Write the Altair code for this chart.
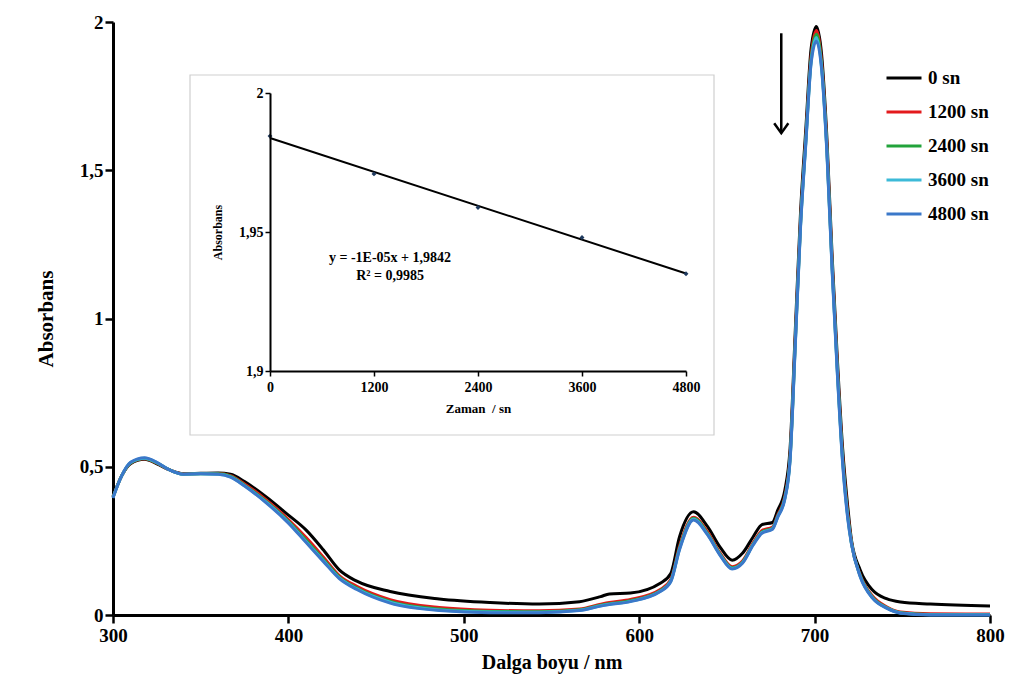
import altair as alt
import pandas as pd

# ---------------- data ----------------
wavelength = [300, 305, 310, 318, 325, 332, 340, 350, 360, 367, 375, 387, 400, 410, 420, 429, 439,
              458, 486, 515, 543, 566, 578, 583, 595, 612, 618, 623, 631, 639, 646, 653, 659, 665,
              670, 676, 679, 683, 686, 689, 692, 695, 698, 701, 704, 707, 710, 713, 716, 719, 721,
              726, 733, 741, 749, 766, 800]

abs_0 = [0.40, 0.47, 0.51, 0.525, 0.51, 0.49, 0.477, 0.478, 0.479, 0.475, 0.45, 0.40, 0.337, 0.287,
         0.219, 0.152, 0.114, 0.079, 0.054, 0.042, 0.037, 0.045, 0.062, 0.071, 0.074, 0.107, 0.14,
         0.264, 0.348, 0.298, 0.23, 0.185, 0.209, 0.264, 0.305, 0.312, 0.354, 0.42, 0.56, 0.96, 1.36,
         1.64, 1.91, 1.985, 1.89, 1.61, 1.21, 0.86, 0.56, 0.36, 0.253, 0.152, 0.084, 0.055, 0.044,
         0.037, 0.03]

abs_1200 = [0.398, 0.47, 0.512, 0.527, 0.512, 0.49, 0.476, 0.477, 0.477, 0.47, 0.442, 0.39, 0.322,
            0.262, 0.195, 0.133, 0.097, 0.052, 0.025, 0.016, 0.014, 0.02, 0.036, 0.042, 0.052, 0.086,
            0.12, 0.232, 0.33, 0.28, 0.21, 0.163, 0.183, 0.244, 0.285, 0.297, 0.338, 0.40, 0.535, 0.93,
            1.33, 1.61, 1.885, 1.971, 1.865, 1.585, 1.185, 0.835, 0.535, 0.34, 0.246, 0.136, 0.064,
            0.028, 0.01, 0.004, 0.003]

abs_2400 = [0.397, 0.47, 0.513, 0.528, 0.513, 0.49, 0.475, 0.476, 0.476, 0.468, 0.438, 0.385, 0.316,
            0.253, 0.187, 0.128, 0.091, 0.046, 0.02, 0.012, 0.011, 0.018, 0.033, 0.038, 0.048, 0.082,
            0.116, 0.226, 0.326, 0.275, 0.206, 0.159, 0.179, 0.24, 0.28, 0.293, 0.334, 0.395, 0.527,
            0.92, 1.32, 1.60, 1.873, 1.959, 1.853, 1.573, 1.173, 0.823, 0.523, 0.33, 0.243, 0.133,
            0.06, 0.025, 0.008, 0.002, 0.002]

abs_3600 = [0.396, 0.47, 0.514, 0.529, 0.514, 0.49, 0.475, 0.476, 0.475, 0.466, 0.436, 0.382, 0.313,
            0.248, 0.183, 0.125, 0.088, 0.043, 0.017, 0.01, 0.009, 0.016, 0.031, 0.036, 0.046, 0.08,
            0.114, 0.223, 0.323, 0.272, 0.204, 0.157, 0.177, 0.238, 0.278, 0.291, 0.332, 0.392, 0.523,
            0.915, 1.315, 1.595, 1.865, 1.948, 1.846, 1.566, 1.166, 0.816, 0.516, 0.325, 0.241, 0.131,
            0.058, 0.024, 0.007, 0.001, 0.001]

abs_4800 = [0.395, 0.47, 0.515, 0.53, 0.515, 0.49, 0.475, 0.476, 0.475, 0.465, 0.435, 0.38, 0.31,
            0.245, 0.18, 0.123, 0.086, 0.04, 0.015, 0.008, 0.008, 0.015, 0.03, 0.035, 0.045, 0.079,
            0.112, 0.22, 0.32, 0.27, 0.202, 0.155, 0.175, 0.236, 0.276, 0.289, 0.33, 0.39, 0.52, 0.91,
            1.31, 1.59, 1.86, 1.935, 1.84, 1.56, 1.16, 0.81, 0.51, 0.32, 0.24, 0.129, 0.057, 0.023,
            0.006, 0.0, 0.0]

series_names = ["0 sn", "1200 sn", "2400 sn", "3600 sn", "4800 sn"]
series_colors = ["#000000", "#e31a1c", "#22a33b", "#3cbad8", "#3b78c9"]

x_ticks = [300, 400, 500, 600, 700, 800]
y_ticks = [0, 0.5, 1, 1.5, 2]

# arrow annotation (wavelength, top absorbance, bottom absorbance)
arrow_wl = [681]
arrow_top = [1.962]
arrow_bottom = [1.625]

# inset: absorbance at peak vs time
inset_time = [0, 1200, 2400, 3600, 4800]
inset_abs = [1.9845, 1.9709, 1.9588, 1.9480, 1.9350]
inset_x_ticks = [0, 1200, 2400, 3600, 4800]
inset_y_ticks = [1.9, 1.95, 2]
eq_text = ["y = -1E-05x + 1,9842", "R² = 0,9985"]
eq_time = [1385, 1385]
eq_abs = [1.9406, 1.9342]

# ---------------- build tables ----------------
rows = []
for name, vals in zip(series_names, [abs_0, abs_1200, abs_2400, abs_3600, abs_4800]):
    for w, a in zip(wavelength, vals):
        rows.append({"series": name, "wl": w, "abs": a})
df = pd.DataFrame(rows)
arrow_df = pd.DataFrame({"wl": arrow_wl, "top": arrow_top, "bottom": arrow_bottom})
inset_df = pd.DataFrame({"t": inset_time, "a": inset_abs})
eq_df = pd.DataFrame({"t": eq_time, "a": eq_abs, "txt": eq_text})

FONT = "Liberation Serif"
W, H = 877, 593

label_expr = "replace(format(datum.value, '~g'), '.', ',')"

x_main = alt.X("wl:Q", scale=alt.Scale(domain=[300, 800], nice=False),
               axis=alt.Axis(values=x_ticks, title="Dalga boyu / nm", grid=False, format="d",
                             domainWidth=3, domainColor="black", tickColor="black",
                             tickWidth=2.5, tickSize=8, labelFont=FONT, labelFontWeight="bold",
                             labelFontSize=19, labelColor="black", labelPadding=3,
                             titleFont=FONT, titleFontWeight="bold", titleFontSize=20,
                             titleColor="black", titlePadding=7, labelFlush=False))
y_main = alt.Y("abs:Q", scale=alt.Scale(domain=[0, 2], nice=False),
               axis=alt.Axis(values=y_ticks, title="Absorbans", grid=False, labelExpr=label_expr,
                             domainWidth=3, domainColor="black", tickColor="black",
                             tickWidth=2.5, tickSize=8, labelFont=FONT, labelFontWeight="bold",
                             labelFontSize=19, labelColor="black", labelPadding=2,
                             titleFont=FONT, titleFontWeight="bold", titleFontSize=21,
                             titleColor="black", titlePadding=23, labelFlush=False))

lines = alt.Chart(df).mark_line(strokeWidth=3, interpolate="monotone").encode(
    x=x_main,
    y=y_main,
    color=alt.Color("series:N",
                    scale=alt.Scale(domain=series_names, range=series_colors),
                    legend=alt.Legend(title=None, orient="none", legendX=772, legendY=37,
                                      symbolType="stroke", symbolSize=1225, symbolStrokeWidth=3,
                                      labelFont=FONT, labelFontWeight="bold", labelFontSize=19,
                                      labelColor="black", rowPadding=5, labelOffset=5, padding=0)),
    order=alt.Order("wl:Q"),
)

arrow_line = alt.Chart(arrow_df).mark_rule(color="black", strokeWidth=2.5).encode(
    x="wl:Q", y="top:Q", y2="bottom:Q")
arrow_head = alt.Chart(arrow_df).mark_point(
    shape="M-1,-1.4L0,0L1,-1.4", filled=False, color="black", strokeWidth=2.5, size=200,
    opacity=1).encode(x="wl:Q", y="bottom:Q")

main = alt.layer(lines, arrow_line, arrow_head)

box = alt.Chart(pd.DataFrame({"k": [0]})).mark_rect(
    fill="white", stroke="#cfcfcf", strokeWidth=1.2).encode(
    x=alt.value(77), x2=alt.value(601), y=alt.value(53), y2=alt.value(413))

ix = alt.X("t:Q", scale=alt.Scale(domain=[0, 4800], range=[157, 573], nice=False),
           axis=alt.Axis(orient="bottom", offset=-244, values=inset_x_ticks,
                         title="Zaman\u00a0\u00a0/ sn", format="d",
                         grid=False, domainWidth=2, domainColor="black", tickColor="black",
                         tickWidth=1.5, tickSize=5, labelFont=FONT, labelFontWeight="bold",
                         labelFontSize=14, labelColor="black", labelPadding=4,
                         titleFont=FONT, titleFontWeight="bold", titleFontSize=13,
                         titleColor="black", titlePadding=8, labelFlush=False, zindex=2))
iy = alt.Y("a:Q", scale=alt.Scale(domain=[1.9, 2], range=[349, 71], nice=False, zero=False),
           axis=alt.Axis(orient="left", offset=-157, values=inset_y_ticks, title="Absorbans",
                         labelExpr=label_expr, grid=False, domainWidth=2, domainColor="black",
                         tickColor="black", tickWidth=1.5, tickSize=5, labelFont=FONT,
                         labelFontWeight="bold", labelFontSize=14, labelColor="black",
                         labelPadding=2, titleFont=FONT, titleFontWeight="bold",
                         titleFontSize=12, titleColor="black", titlePadding=14, labelFlush=False,
                         zindex=2))

inset_trend = alt.Chart(inset_df).transform_regression("t", "a").mark_line(
    color="black", strokeWidth=2).encode(x=ix, y=iy)
inset_pts = alt.Chart(inset_df).mark_point(
    shape="diamond", filled=True, color="#1f3a5f", size=24, opacity=1).encode(x=ix, y=iy)
inset_txt = alt.Chart(eq_df).mark_text(
    font=FONT, fontWeight="bold", fontSize=14, color="black", align="center").encode(
    x=ix, y=iy, text="txt:N")

inset = alt.layer(inset_trend, inset_pts, inset_txt)

chart = alt.layer(main, box, inset).resolve_scale(
    x="independent", y="independent"
).properties(
    width=W, height=H,
    autosize=alt.AutoSizeParams(type="none"),
    padding={"left": 105, "top": 14, "right": 26, "bottom": 74},
).configure_view(stroke=None)

chart.save("out.html", embed_options={"renderer": "svg", "actions": False})
